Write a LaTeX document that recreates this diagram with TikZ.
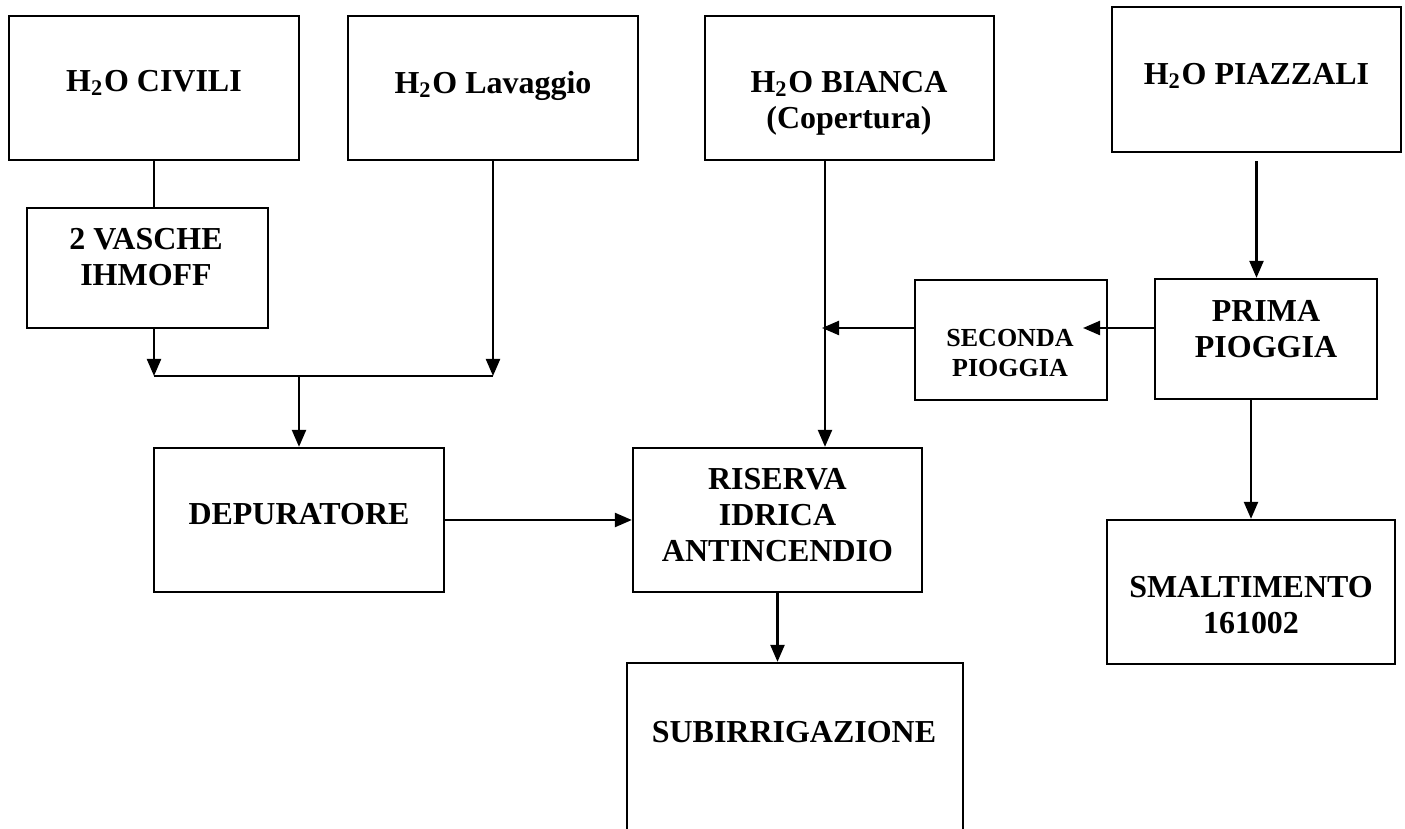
\documentclass[tikz,border=0pt]{standalone}
\usepackage{fontspec}
\setmainfont{Liberation Serif}
\usetikzlibrary{arrows.meta}

\begin{document}
\begin{tikzpicture}[x=1cm, y=-1cm, line width=0.65pt,
  box/.style={draw, inner sep=0pt},
  txt/.style={font=\bfseries\fontsize{9.1}{10.2}\selectfont, align=center, inner sep=0pt},
  smalltxt/.style={txt, font=\bfseries\fontsize{7.4}{8.8}\selectfont},
  arr/.style={-{Triangle[length=0.17cm, width=0.14cm]}}]
  \path[use as bounding box, clip] (0,0) rectangle (14.05,8.29);

  \node[box, minimum width=2.90cm, minimum height=1.44cm] (civili) at (1.54,0.88) {};
  \node[txt] (civili-t) at (1.54,0.83) {H\textsubscript{2}O CIVILI};
  \node[box, minimum width=2.90cm, minimum height=1.44cm] (lavaggio) at (4.93,0.88) {};
  \node[txt] (lavaggio-t) at (4.93,0.86) {H\textsubscript{2}O Lavaggio};
  \node[box, minimum width=2.89cm, minimum height=1.44cm] (bianca) at (8.495,0.88) {};
  \node[txt] (bianca-t) at (8.49,1.03) {H\textsubscript{2}O BIANCA\\(Copertura)};
  \node[box, minimum width=2.89cm, minimum height=1.45cm] (piazzali) at (12.565,0.795) {};
  \node[txt] (piazzali-t) at (12.565,0.76) {H\textsubscript{2}O PIAZZALI};

  \node[box, minimum width=2.41cm, minimum height=1.20cm] (vasche) at (1.475,2.68) {};
  \node[txt] (vasche-t) at (1.46,2.57) {2 VASCHE\\IHMOFF};
  \node[box, minimum width=1.92cm, minimum height=1.20cm] (seconda) at (10.11,3.40) {};
  \node[smalltxt] (seconda-t) at (10.10,3.53) {SECONDA\\PIOGGIA};
  \node[box, minimum width=2.22cm, minimum height=1.20cm] (prima) at (12.66,3.39) {};
  \node[txt] (prima-t) at (12.66,3.29) {PRIMA\\PIOGGIA};

  \node[box, minimum width=2.90cm, minimum height=1.44cm] (depuratore) at (2.99,5.20) {};
  \node[txt] (depuratore-t) at (2.99,5.14) {DEPURATORE};
  \node[box, minimum width=2.89cm, minimum height=1.44cm] (riserva) at (7.775,5.20) {};
  \node[txt] (riserva-t) at (7.775,5.15) {RISERVA\\IDRICA\\ANTINCENDIO};
  \node[box, minimum width=2.88cm, minimum height=1.44cm] (smalt) at (12.51,5.92) {};
  \node[txt] (smalt-t) at (12.51,6.05) {SMALTIMENTO\\161002};
  \node[box, minimum width=3.36cm, minimum height=2.00cm] (subirr) at (7.95,7.63) {};
  \node[txt] (subirr-t) at (7.94,7.32) {SUBIRRIGAZIONE};

  \coordinate (merge) at (2.99,3.76);
  \coordinate (pjoin) at (10.83,3.28);
  \coordinate (bjoin) at (8.22,3.28);

  \draw (civili.south) -- (civili.south |- vasche.north);
  \draw[arr] (civili.south |- vasche.south) -- (civili.south |- merge);
  \draw[arr] (lavaggio.south) -- (lavaggio.south |- merge);
  \draw (civili.south |- merge) -- (lavaggio.south |- merge);
  \draw[arr] (merge) -- (depuratore.north);
  \draw[arr] (depuratore.east) -- (riserva.west);
  \draw[arr] ([xshift=-0.245cm]bianca.south) -- ([xshift=-0.245cm]bianca.south |- riserva.north);
  \draw[arr] ([yshift=-0.08cm]piazzali.south) -- (piazzali.south |- prima.north);
  \draw[arr] (prima.west |- pjoin) -- (pjoin);
  \draw[arr] (seconda.west |- bjoin) -- (bjoin);
  \draw[arr] (prima.south -| smalt.north) -- (smalt.north);
  \draw[arr] (riserva.south) -- (riserva.south |- subirr.north);
\end{tikzpicture}
\end{document}
